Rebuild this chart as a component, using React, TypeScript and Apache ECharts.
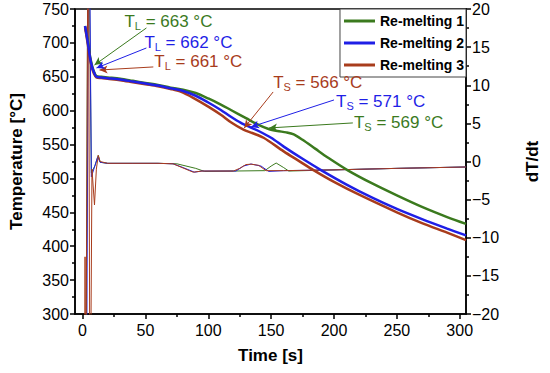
import React, { useEffect, useRef } from "react";
import * as echarts from "echarts";

// ---- Temperature curves (left axis, °C) ----
const time1 = [2, 4, 6, 7.5, 9, 11, 15, 20, 30, 40, 50, 60, 70, 80, 90, 100, 110, 118, 130, 140, 148, 155, 162, 168, 175, 185, 195, 211, 230, 250, 270, 290, 305];
const temp1 = [725, 705, 680, 667, 658, 651, 650, 649, 647, 644, 641, 638, 634, 631, 626, 618, 609, 601, 589, 579, 573, 570, 568, 565, 557, 544, 531, 512, 493, 475, 458, 443, 433];

const time2 = [2, 4, 6, 7.5, 9, 11, 15, 20, 30, 40, 50, 60, 70, 80, 90, 100, 110, 118, 126, 134, 140, 150, 160, 175, 190, 210, 230, 250, 270, 290, 305];
const temp2 = [725, 703, 678, 665, 657, 650, 649, 648, 646, 643, 640, 637, 633, 629, 622, 612, 601, 591, 582, 575, 570, 560, 547, 529, 512, 491, 472, 455, 440, 426, 416];

const time3 = [2, 4, 6, 7.5, 9, 11, 15, 20, 30, 40, 50, 60, 70, 78, 88, 100, 110, 118, 128, 135, 144, 160, 172, 184, 200, 220, 250, 270, 290, 305];
const temp3 = [723, 700, 676, 663, 655, 649, 648, 647, 645, 642, 639, 636, 632, 628, 619, 606, 594, 583, 572, 567, 560, 540, 526, 512, 495, 476, 450, 434, 420, 409];

// ---- Cooling rate curves (right axis, dT/dt) ----
const rateTime1 = [2.5, 4.5, 7, 10, 12.5, 14, 20, 40, 60, 75, 90, 97, 120, 145, 150, 154, 160, 164, 200, 250, 305];
const rate1 = [-40, 40, -1.5, -0.5, 0.8, -0.1, -0.24, -0.24, -0.24, -0.3, -0.9, -1.3, -1.25, -1.2, -0.6, -0.2, -0.8, -1.25, -1.1, -0.9, -0.72];

const rateTime2 = [3, 5, 7, 9, 12, 14, 20, 40, 60, 72, 80, 89, 95, 122, 128, 134, 142, 148, 160, 200, 250, 305];
const rate2 = [-40, 40, -2, -1, 0.6, -0.1, -0.24, -0.24, -0.24, -0.3, -0.8, -1.4, -1.25, -1.25, -0.6, -0.33, -0.6, -1.3, -1.2, -1.1, -0.9, -0.72];

const rateTime3 = [1.5, 2, 2.5, 4.5, 6, 7.5, 9.5, 11, 12.5, 14, 20, 40, 60, 72, 85, 88, 95, 120, 125, 130, 134, 140, 146, 160, 200, 250, 305];
const rate3 = [-40, -12.5, -40, 40, -40, -1, -5.7, -1, 0.8, 0, -0.24, -0.24, -0.24, -0.3, -1.2, -1.4, -1.25, -1.25, -0.9, -0.4, -0.35, -0.5, -1.2, -1.2, -1.1, -0.9, -0.72];

// ---- Axes ----
const xMajorTicks = [0, 50, 100, 150, 200, 250, 300];
const xMinorTicks = [25, 75, 125, 175, 225, 275];

// ---- Names / colours ----
const seriesNames = ["Re-melting 1", "Re-melting 2", "Re-melting 3"];
const colors = ["#3b7a1e", "#1f1fe6", "#a83c1c"];

// ---- Annotations: label, series, text anchor [t, T], arrow from, arrow to ----
const annotSub = ["L", "L", "L", "S", "S", "S"];
const annotValue = ["663", "662", "661", "566", "571", "569"];
const annotSeries = [0, 1, 2, 2, 1, 0];
const annotText = [[33.3, 731], [49.2, 701], [57.1, 672], [151.6, 641], [201.6, 613], [215.9, 582]];
const annotFrom = [[50.8, 722], [50.8, 692.5], [56.3, 664.5], [151.6, 627.6], [200, 615.8], [215, 581.9]];
const annotTo = [[9.5, 667.4], [11.1, 663], [13.5, 660], [128.6, 574.5], [134, 576], [148.4, 574.5]];

const FONT = "'Liberation Sans', Arial, sans-serif";

const zip = (a: number[], b: number[]) => a.map((v, i) => [v, b[i]]);

export default function App() {
  const ref = useRef<HTMLDivElement>(null);
  useEffect(() => {
    if (!ref.current) return;
    const chart = echarts.init(ref.current, undefined, { renderer: "svg" });

    const temps = [zip(time1, temp1), zip(time2, temp2), zip(time3, temp3)];
    const rates = [zip(rateTime1, rate1), zip(rateTime2, rate2), zip(rateTime3, rate3)];

    const markFor = (si: number) => {
      const idx = annotSeries.map((s, i) => (s === si ? i : -1)).filter((i) => i >= 0);
      const c = colors[si];
      return {
        markLine: {
          silent: true,
          animation: false,
          symbol: ["none", "arrow"],
          symbolSize: [6, 8],
          label: { show: false },
          lineStyle: { color: c, width: 1, type: "solid" },
          data: idx.map((i) => [{ coord: annotFrom[i] }, { coord: annotTo[i] }]),
        },
        markPoint: {
          silent: true,
          animation: false,
          data: idx.map((i) => ({
            coord: annotText[i],
            symbol: "circle",
            symbolSize: 0,
            label: {
              show: true,
              position: "right",
              distance: 0,
              formatter: `{m|T}{s|${annotSub[i]}}{m| = ${annotValue[i]} °C}`,
              rich: {
                m: { fontSize: 17, color: c, fontFamily: FONT, lineHeight: 18 },
                s: { fontSize: 11, color: c, fontFamily: FONT, lineHeight: 11, padding: [9, 0, 0, 0] },
              },
            },
          })),
        },
      };
    };

    const order = [0, 2, 1];
    const tempSeries = order.map((i) => ({
      name: seriesNames[i],
      type: "line",
      xAxisIndex: 0,
      yAxisIndex: 0,
      data: temps[i],
      showSymbol: false,
      symbol: "none",
      smooth: 0.3,
      lineStyle: { color: colors[i], width: 2.5 },
      itemStyle: { color: colors[i] },
      z: 3,
      ...markFor(i),
    }));
    const rateSeries = [0, 1, 2].map((i) => ({
      name: "dT/dt " + (i + 1),
      type: "line",
      xAxisIndex: 0,
      yAxisIndex: 1,
      data: rates[i],
      showSymbol: false,
      symbol: "none",
      lineStyle: { color: colors[i], width: 1 },
      itemStyle: { color: colors[i] },
      z: 2,
    }));

    const labelStyle = { color: "#000", fontSize: 16, fontFamily: FONT };
    const lineStyle = { color: "#000", width: 1.5 };

    chart.setOption({
      animation: false,
      backgroundColor: "#fff",
      grid: { left: 73, right: 84, top: 9, bottom: 59, show: true, borderColor: "#000", borderWidth: 1.5, backgroundColor: "transparent" },
      legend: {
        data: seriesNames,
        orient: "vertical",
        right: 84,
        top: 9,
        backgroundColor: "#fff",
        borderColor: "#444",
        borderWidth: 1,
        borderRadius: 0,
        padding: [5, 2, 5, 4],
        itemGap: 8,
        itemWidth: 31,
        itemHeight: 3,
        icon: "rect",
        textStyle: { color: "#000", fontSize: 14, fontWeight: "bold", fontFamily: FONT },
      },
      xAxis: [
        {
          type: "value",
          min: -6,
          max: 305,
          name: "Time [s]",
          nameLocation: "middle",
          nameGap: 33,
          nameTextStyle: { color: "#000", fontSize: 17, fontWeight: "bold", fontFamily: FONT },
          axisLine: { show: true, onZero: false, lineStyle },
          axisTick: { show: true, length: 5, lineStyle, customValues: xMajorTicks },
          axisLabel: { ...labelStyle, margin: 8, customValues: xMajorTicks },
          splitLine: { show: false },
        },
        {
          type: "value",
          min: -6,
          max: 305,
          position: "bottom",
          axisLine: { show: false, onZero: false },
          axisTick: { show: true, length: 3, lineStyle, customValues: xMinorTicks },
          axisLabel: { show: false },
          splitLine: { show: false },
        },
      ],
      yAxis: [
        {
          type: "value",
          min: 300,
          max: 750,
          interval: 50,
          name: "Temperature [°C]",
          nameLocation: "middle",
          nameGap: 50,
          nameTextStyle: { color: "#000", fontSize: 17, fontWeight: "bold", fontFamily: FONT },
          axisLine: { show: true, onZero: false, lineStyle },
          axisTick: { show: true, length: 5, lineStyle },
          minorTick: { show: true, splitNumber: 2, length: 3, lineStyle },
          axisLabel: { ...labelStyle, margin: 6 },
          splitLine: { show: false },
        },
        {
          type: "value",
          min: -20,
          max: 20,
          interval: 5,
          position: "right",
          name: "dT/dt",
          nameLocation: "middle",
          nameRotate: 90,
          nameGap: 58,
          nameTextStyle: { color: "#000", fontSize: 17, fontWeight: "bold", fontFamily: FONT },
          axisLine: { show: true, onZero: false, lineStyle },
          axisTick: { show: true, length: 5, lineStyle },
          minorTick: { show: true, splitNumber: 2, length: 3, lineStyle },
          axisLabel: {
            ...labelStyle,
            margin: 6,
            formatter: (v: number) => (v < 0 ? "\u2212" + Math.abs(v) : String(v)),
          },
          splitLine: { show: false },
        },
      ],
      series: [...rateSeries, ...tempSeries],
    });
    return () => chart.dispose();
  }, []);
  return (
    <div
      ref={ref}
      style={{ position: "absolute", left: 0, top: 0, width: 550, height: 373, background: "#fff" }}
    />
  );
}
